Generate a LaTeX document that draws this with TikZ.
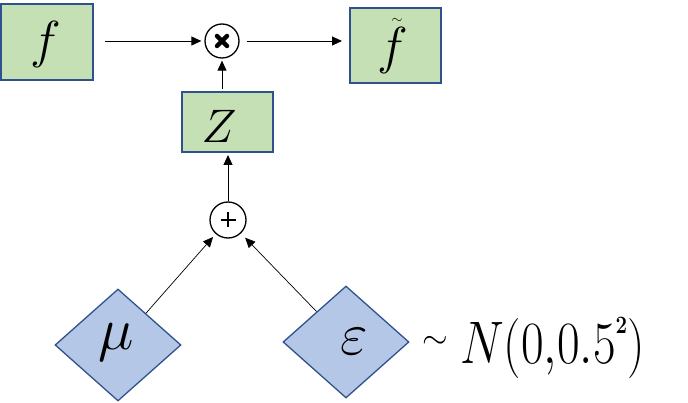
\RequirePackage{fix-cm}
\documentclass[tikz,border=0pt]{standalone}
\usetikzlibrary{shapes.geometric,arrows.meta,calc}
\definecolor{boxgreen}{HTML}{C5E0B4}
\definecolor{boxborder}{HTML}{2F528F}
\definecolor{diafill}{HTML}{B4C7E7}
\tikzset{
  gbox/.style={draw=boxborder, fill=boxgreen, line width=2pt, rectangle, inner sep=0pt},
  dia/.style={draw=boxborder, fill=diafill, line width=1.3pt, diamond, inner sep=0pt, minimum width=126pt, minimum height=112pt},
  op/.style={draw=black, line width=1.3pt, circle, inner sep=0pt, minimum size=34pt},
  txt/.style={inner sep=0pt, outer sep=0pt},
  arr/.style={-{Triangle[length=10pt,width=9pt]}, line width=0.9pt},
  thinarr/.style={-{Triangle[length=10pt,width=9pt]}, line width=0.7pt}
}
\begin{document}
\begin{tikzpicture}[x=1pt,y=-1pt]
\useasboundingbox (0,0) rectangle (688,403);
% boxes
\node[gbox, minimum width=92pt, minimum height=76pt] (fbox) at (47,42) {};
\node[gbox, minimum width=91pt, minimum height=75pt] (ftbox) at (395.5,45.5) {};
\node[gbox, minimum width=91pt, minimum height=60pt] (zbox) at (227.5,122) {};
\node[txt, font=\fontsize{52}{52}\selectfont] (ftxt) at (46,45) {$f$};
\node[txt, font=\fontsize{52}{52}\selectfont] (fttxt) at (393,51) {$f$};
\node[txt, font=\fontsize{14}{14}\selectfont] (tildetxt) at (397,21) {$\sim$};
\node[txt, font=\fontsize{47}{47}\selectfont] (ztxt) at (219,126) {$Z$};
% operators
\node[op] (times) at (222,41) {};
\draw[line width=4.5pt, line cap=round] ($(times.center)+(-5,-5)$) -- ($(times.center)+(5,5)$)
  ($(times.center)+(-5,5)$) -- ($(times.center)+(5,-5)$);
\node[op, minimum size=36pt] (plus) at (228,220) {};
\draw[line width=1.3pt] ($(plus.center)+(-7.5,0)$) -- ($(plus.center)+(7.5,0)$)
  ($(plus.center)+(0,-7.5)$) -- ($(plus.center)+(0,7.5)$);
% diamonds
\node[dia] (mu) at (118,345) {};
\node[dia] (eps) at (346,342) {};
\node[txt, font=\fontsize{60}{60}\selectfont] (mutxt) at (116,342) {$\mu$};
\node[txt, font=\fontsize{60}{60}\selectfont] (epstxt) at (354,342) {$\varepsilon$};
% distribution
\node[txt, font=\fontsize{33}{33}\selectfont] (sim) at (435,342) {$\sim$};
\node[txt, anchor=base west, font=\fontsize{60}{60}\selectfont] (dist) at (460,363)
  {\scalebox{0.82}[1]{$N(0{,}0.5\raisebox{30pt}{\fontsize{25}{25}\selectfont\bfseries 2})$}};
% connectors
\draw[arr, shorten <=11pt, shorten >=3pt] (fbox.east |- times) -- (times.west);
\draw[arr, shorten <=7pt, shorten >=7pt] (times.east) -- (times.east -| ftbox.west);
\draw[arr, shorten <=2pt, shorten >=2pt] (zbox.north -| times) -- (times.south);
\draw[arr, shorten >=2pt] (plus.north) -- (plus.north |- zbox.south);
\draw[thinarr, shorten >=4pt] (mu) -- (plus);
\draw[thinarr, shorten >=6pt] (eps) -- (plus);
\end{tikzpicture}
\end{document}
